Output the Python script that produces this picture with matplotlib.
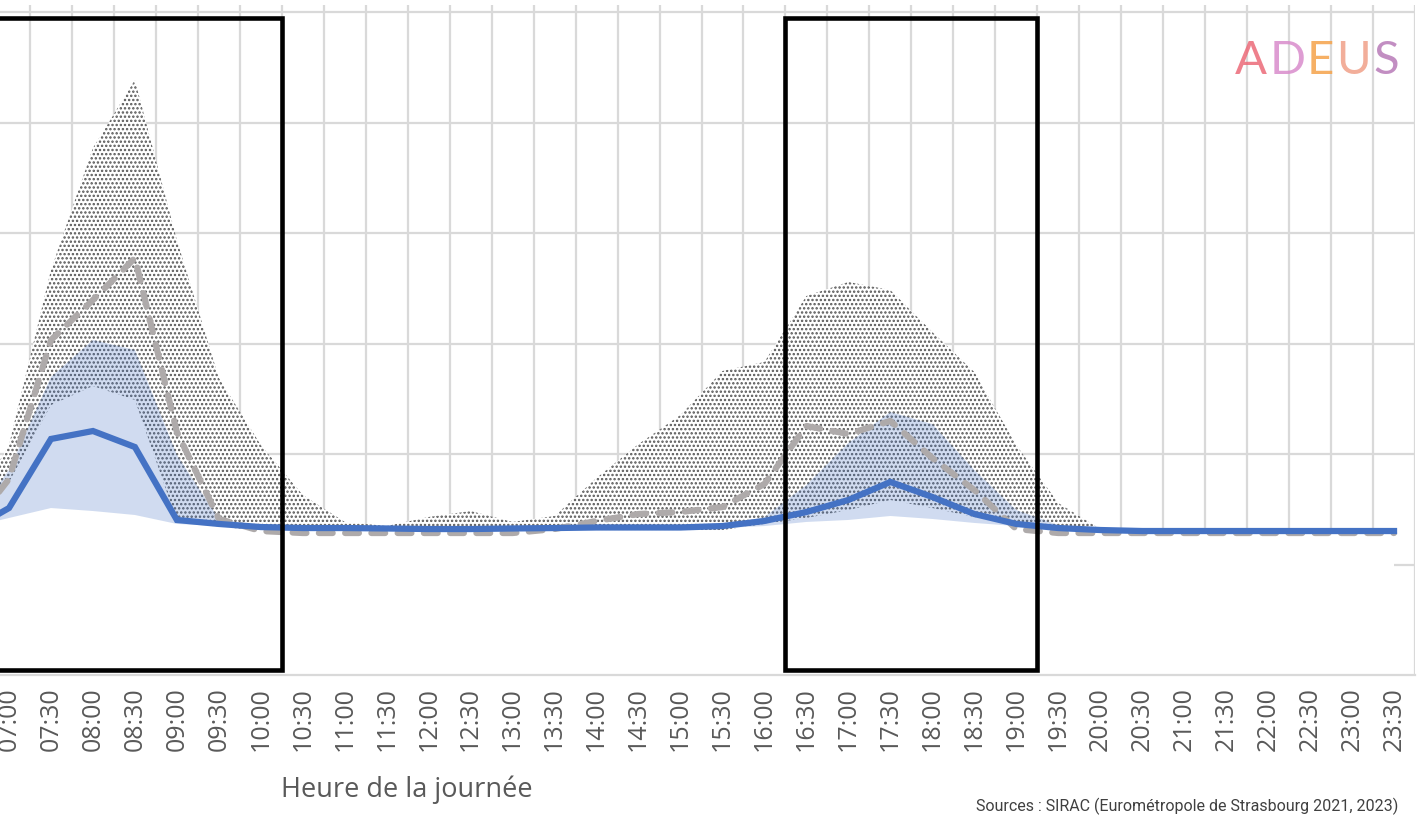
import matplotlib
matplotlib.use('Agg')
import matplotlib.pyplot as plt
from matplotlib.patches import Rectangle
import numpy as np

plt.rcParams['hatch.linewidth'] = 1.15

# ---------------- data ----------------
times = ['06:30', '07:00', '07:30', '08:00', '08:30', '09:00', '09:30', '10:00',
         '10:30', '11:00', '11:30', '12:00', '12:30', '13:00', '13:30', '14:00',
         '14:30', '15:00', '15:30', '16:00', '16:30', '17:00', '17:30', '18:00',
         '18:30', '19:00', '19:30', '20:00', '20:30', '21:00', '21:30', '22:00',
         '22:30', '23:00', '23:30']

# median group 1 (blue line)
blue_median = [12.94, 15.11, 21.36, 22.08, 20.63, 14.03, 13.67, 13.39,
               13.30, 13.30, 13.26, 13.21, 13.21, 13.26, 13.30, 13.35,
               13.35, 13.35, 13.48, 13.94, 14.75, 15.84, 17.47, 16.11,
               14.57, 13.67, 13.30, 13.12, 13.03, 13.03, 13.03, 13.03,
               13.03, 13.03, 13.03]
# range group 1 (light blue band)
blue_low = [13.30, 14.21, 15.11, 14.84, 14.48, 13.67, 13.48, 13.30,
            13.12, 13.12, 13.12, 13.12, 13.12, 13.12, 13.12, 13.12,
            13.12, 13.12, 13.30, 13.48, 13.85, 14.03, 14.39, 14.12,
            13.76, 13.48, 13.30, 13.12, 13.12, 13.12, 13.12, 13.12,
            13.12, 13.12, 13.12]
blue_high = [13.39, 18.55, 26.97, 30.32, 29.41, 19.91, 14.12, 13.48,
             13.30, 13.30, 13.30, 13.30, 13.30, 13.30, 13.30, 13.30,
             13.30, 13.30, 13.48, 14.30, 17.19, 21.00, 23.80, 22.71,
             18.55, 14.93, 13.57, 13.21, 13.12, 13.12, 13.12, 13.12,
             13.12, 13.12, 13.12]
# median group 2 (grey dashed line)
grey_median = [12.85, 17.74, 30.32, 33.94, 37.74, 21.99, 14.12, 13.03,
               12.85, 12.85, 12.85, 12.85, 12.85, 12.85, 13.21, 13.94,
               14.57, 14.75, 15.20, 17.29, 22.53, 21.81, 22.99, 19.64,
               16.74, 13.21, 12.85, 12.85, 12.85, 12.85, 12.85, 12.85,
               12.85, 12.85, 12.85]
# range group 2 (dotted band)
grey_low = [13.12, 17.47, 24.43, 26.15, 24.89, 13.94, 13.39, 13.12,
            13.12, 13.12, 13.12, 13.12, 13.12, 13.12, 13.12, 13.12,
            13.12, 13.12, 13.12, 13.67, 14.21, 14.93, 15.84, 15.11,
            14.30, 13.67, 13.30, 13.12, 13.12, 13.12, 13.12, 13.12,
            13.12, 13.12, 13.12]
grey_high = [14.48, 20.81, 36.65, 47.69, 53.85, 39.37, 26.88, 20.81,
             16.29, 13.85, 13.48, 14.30, 14.84, 13.85, 14.39, 17.83,
             20.90, 23.53, 27.51, 28.33, 34.30, 35.57, 34.84, 31.04,
             27.42, 20.81, 15.57, 13.21, 13.03, 13.03, 13.03, 13.03,
             13.03, 13.03, 13.03]

# highlighted peak periods (category boundaries)
morning_box = (-3.0, 7.5)
evening_box = (19.5, 25.5)

# ---------------- figure ----------------
W, H = 1421, 818
fig = plt.figure(figsize=(W / 100, H / 100), dpi=100)
left_px, right_px = -53.95, 1415.0
bottom_px, top_px = 675.0, 5.0
ax = fig.add_axes([left_px / W, (H - bottom_px) / H,
                   (right_px - left_px) / W, (bottom_px - top_px) / H])

x = np.arange(len(times))
ax.set_xlim(-0.5, len(times) - 0.5)
ymax = (bottom_px - top_px) / 11.05
ax.set_ylim(0, ymax)

grid_c = '#D9D9D9'
for s in ['left', 'right', 'top']:
    ax.spines[s].set_visible(False)
ax.spines['bottom'].set_color(grid_c)
ax.spines['bottom'].set_linewidth(1.6)

ax.set_yticks(np.arange(10, 61, 10))
ax.set_yticklabels([])
ax.tick_params(axis='y', length=0)
ax.grid(axis='y', color=grid_c, linewidth=1.6)
ax.set_xticks(np.arange(-0.5, len(times), 1), minor=True)
ax.grid(axis='x', which='minor', color=grid_c, linewidth=1.6)
ax.set_axisbelow(True)

ax.set_xticks(x)
ax.set_xticklabels(times, rotation=90, fontsize=18, color='#595959',
                   family='Open Sans')
ax.tick_params(axis='x', which='both', length=0, pad=9)

# white mask below the bands
ax.fill_between(x, 0, blue_high, facecolor='white', linewidth=0, zorder=1.0)
# dotted band
ax.fill_between(x, grey_low, grey_high, facecolor='white', edgecolor='#555555',
                hatch='....', linewidth=0, zorder=1.1)
# light blue band
ax.fill_between(x, blue_low, blue_high, facecolor='#4472C4', alpha=0.25,
                linewidth=0, zorder=1.2)
# median lines
ax.plot(x, grey_median, color='#AEAAAA', linewidth=4.5, dashes=(2.2, 2.0),
        dash_capstyle='round', zorder=2.0)
ax.plot(x, blue_median, color='#4472C4', linewidth=4.5,
        solid_joinstyle='miter', zorder=2.1)

# peak boxes
ylo, yhi = 0.45, 59.5
for (a, b) in [morning_box, evening_box]:
    ax.add_patch(Rectangle((a, ylo), b - a, yhi - ylo, fill=False,
                           edgecolor='black', linewidth=3.3, zorder=3,
                           joinstyle='miter'))

# axis title (centred on the full original plot area)
fig.text(407 / W, 1 - 790 / H, 'Heure de la journée', ha='center', va='center',
         fontsize=19.5, color='#595959', family='Open Sans')

# source
fig.text(1398 / W, 1 - 806 / H,
         'Sources : SIRAC (Eurométropole de Strasbourg 2021, 2023)',
         ha='right', va='center', fontsize=11.5, color='#404040',
         family=['Roboto', 'DejaVu Sans'])

# logo
logo = [('A', 1251, '#ec6a78'), ('D', 1288, '#d98ccc'), ('E', 1320, '#f5a24a'),
        ('U', 1353, '#f0a088'), ('S', 1386, '#b87ab8')]
for ch, px, col in logo:
    fig.text(px / W, 1 - 61 / H, ch, ha='center', va='center', fontsize=34,
             color=col, alpha=0.85, family='Lato')

fig.savefig('out.png', dpi=100)
